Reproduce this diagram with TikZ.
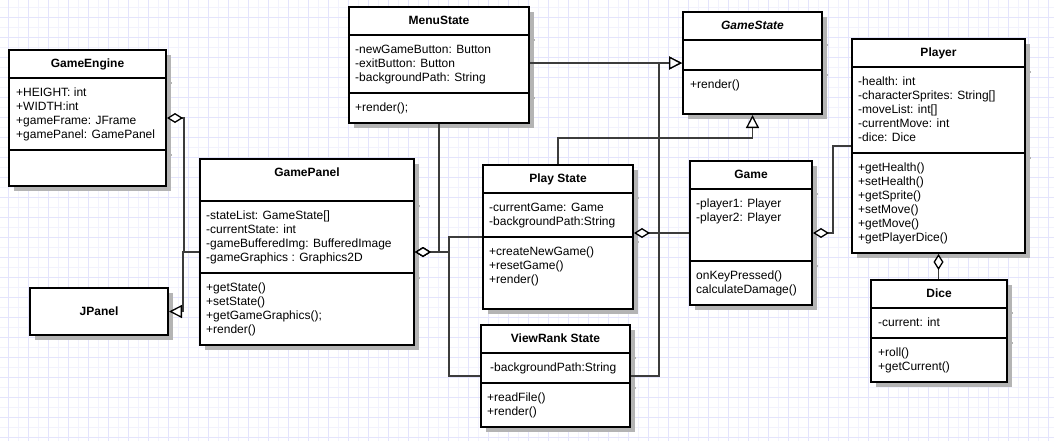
\documentclass[tikz,border=0pt]{standalone}
\usepackage{fontspec}
\setmainfont{Liberation Sans}
\usetikzlibrary{arrows.meta,shadows}

\definecolor{gridminor}{RGB}{242,242,253}
\definecolor{gridmajor}{RGB}{228,228,252}
\definecolor{linegray}{RGB}{60,60,60}
\definecolor{shadowgray}{RGB}{180,180,180}

\tikzset{
  umlbox/.style={draw=black, line width=2pt, fill=white, anchor=north west, inner sep=0pt,
    drop shadow={shadow xshift=5pt, shadow yshift=-5pt, fill=shadowgray, opacity=1}},
  classname/.style={font=\fontsize{12}{14}\selectfont\bfseries, inner sep=0pt, anchor=base},
  member/.style={font=\fontsize{12}{14}\selectfont, inner sep=0pt, anchor=base west},
  conn/.style={draw=linegray, line width=1.3pt},
  aggr/.style={conn, {Diamond[color=black, fill=white, length=16pt, width=10pt, line width=1.3pt]}-},
  inherit/.style={conn, -{Triangle[color=black, fill=white, length=13pt, width=13pt, line width=1.3pt]}}
}

% class box: name, left, top, width, height, title, title baseline
\newcommand{\umlclass}[7]{%
  \node[umlbox, minimum width=#4pt, minimum height=#5pt] (#1) at (#2,#3) {};
  \node[classname] (#1-title) at (#1.north |- 0,#7) {#6};}
% compartment line of a class at height #2
\newcommand{\umlsep}[2]{%
  \draw[shadowgray, line width=2pt] (#1.east |- 0,#2) ++(1,5) -- ++(4,0);
  \draw[line width=2pt] (#1.west |- 0,#2) -- (#1.east |- 0,#2);}
% members: class, part, left, first baseline, list
\newcommand{\members}[5]{%
  \foreach \m [count=\i from 0] in {#5}
    \node[member] (#1-#2-\i) at (#3,#4+14*\i) {\m};}

\begin{document}
\begin{tikzpicture}[x=1pt,y=-1pt]
\useasboundingbox (0,0) rectangle (1054,440);
\fill[white] (0,0) rectangle (1054,440);
\begin{scope}
  \clip (0,0) rectangle (1054,440);
  \draw[gridminor, line width=1pt, shift={(8,7)}] (-20,-20) grid[step=10pt] (1060,450);
  \draw[gridmajor, line width=1pt, shift={(8,17)}] (-20,-40) grid[step=20pt] (1060,440);
\end{scope}

% classes
\umlclass{gameengine}{8}{49}{157}{136}{GameEngine}{67}
\umlsep{gameengine}{78}
\umlsep{gameengine}{150}
\members{gameengine}{a}{16}{96.5}{+HEIGHT: int, +WIDTH:int, +gameFrame: JFrame, +gamePanel: GamePanel}

\umlclass{menustate}{348}{6}{180}{116}{MenuState}{24}
\umlsep{menustate}{35}
\umlsep{menustate}{93}
\members{menustate}{a}{355}{53.5}{-newGameButton: Button, -exitButton: Button, -backgroundPath: String}
\members{menustate}{m}{355}{111.5}{+render();}

\umlclass{gamestate}{682}{11}{139}{102}{\itshape GameState}{29}
\umlsep{gamestate}{40}
\umlsep{gamestate}{70}
\members{gamestate}{m}{690}{88.5}{+render()}

\umlclass{player}{851}{38}{173}{214}{Player}{56}
\umlsep{player}{67}
\umlsep{player}{153}
\members{player}{a}{858}{85.5}{-health: int, -characterSprites: String[], -moveList: int[], -currentMove: int, -dice: Dice}
\members{player}{m}{858}{171.5}{+getHealth(), +setHealth(), +getSprite(), +setMove(), +getMove(), +getPlayerDice()}

\umlclass{gamepanel}{199}{158}{214}{186}{GamePanel}{176}
\umlsep{gamepanel}{201}
\umlsep{gamepanel}{273}
\members{gamepanel}{a}{206}{219.5}{-stateList: GameState[], -currentState: int, -gameBufferedImg: BufferedImage, -gameGraphics : Graphics2D}
\members{gamepanel}{m}{206}{291.5}{+getState(), +setState(), +getGameGraphics();, +render()}

\umlclass{jpanel}{29}{287}{138}{47}{JPanel}{315}

\umlclass{playstate}{482}{164}{150}{144}{Play State}{182}
\umlsep{playstate}{193}
\umlsep{playstate}{237}
\members{playstate}{a}{489}{211.5}{-currentGame: Game, -backgroundPath:String}
\members{playstate}{m}{489}{255.5}{+createNewGame(), +resetGame(), +render()}

\umlclass{game}{689}{160}{122}{144}{Game}{178}
\umlsep{game}{189}
\umlsep{game}{261}
\members{game}{a}{696}{207.5}{-player1: Player, -player2: Player}
\members{game}{m}{696}{279.5}{onKeyPressed(), calculateDamage()}

\umlclass{viewrankstate}{480}{324}{149}{102}{ViewRank State}{342}
\umlsep{viewrankstate}{353}
\umlsep{viewrankstate}{383}
\members{viewrankstate}{a}{490}{371.5}{-backgroundPath:String}
\members{viewrankstate}{m}{487}{401.5}{+readFile(), +render()}

\umlclass{dice}{870}{279}{136}{102}{Dice}{297}
\umlsep{dice}{308}
\umlsep{dice}{338}
\members{dice}{a}{878}{326.5}{-current: int}
\members{dice}{m}{878}{356.5}{+roll(), +getCurrent()}

% relations
\draw[aggr] (gameengine.east) -- ++(17,0) |- (gamepanel.west);
\draw[inherit] (gamepanel.west) -- ++(-16,0) |- (jpanel.east);
\draw[aggr] (gamepanel.east) -| (menustate.south);
\draw[aggr] (gamepanel.east) -- ++(34,0) |- (playstate.west);
\draw[aggr] (gamepanel.east) -- ++(34,0) |- (viewrankstate.west);
\draw[inherit] (menustate.east |- gamestate.west) -- (gamestate.west);
\draw[inherit] (viewrankstate.east) -- ++(28,0) |- (gamestate.west);
\draw[inherit] (playstate.north) -- ++(0,-26) -| (gamestate.south);
\draw[aggr] (playstate.east |- game.west) -- (game.west);
\draw[aggr] (game.east) -- ++(20,0) |- (player.west);
\draw[aggr] (player.south) -- (player.south |- dice.north);
\end{tikzpicture}
\end{document}
